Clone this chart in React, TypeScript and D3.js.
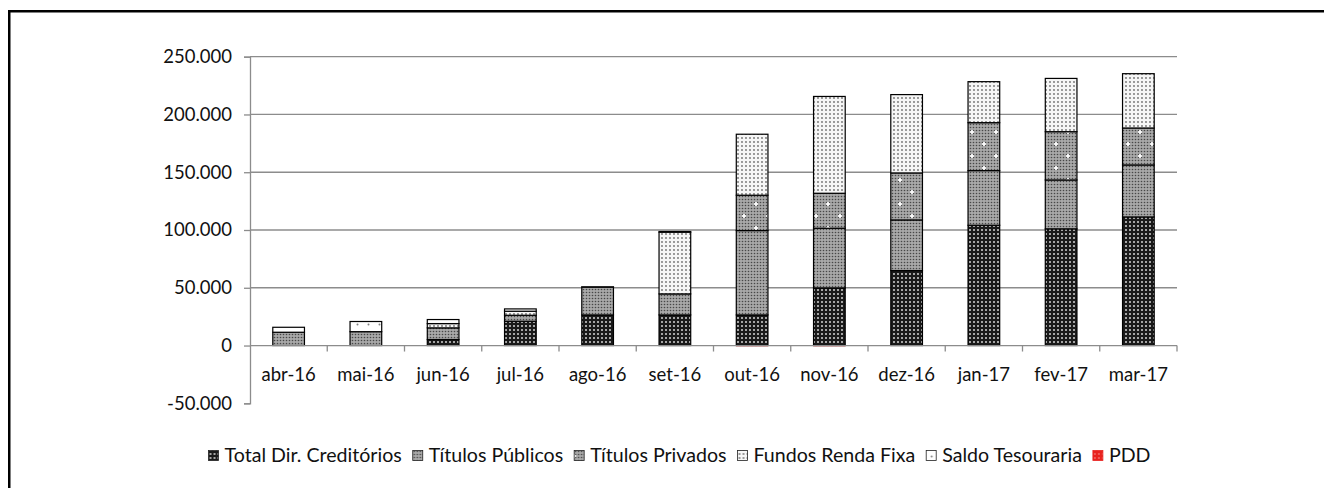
import { useEffect, useRef } from "react";
import * as d3 from "d3";

// months on the category axis
const months = ["abr-16", "mai-16", "jun-16", "jul-16", "ago-16", "set-16", "out-16", "nov-16", "dez-16", "jan-17", "fev-17", "mar-17"];

// values (R$ mil)
const totalDirCreditorios = [0, 0, 5200, 21000, 26500, 26500, 26500, 49900, 64900, 104100, 101000, 111300];
const titulosPublicos = [11500, 12000, 10100, 5200, 24000, 18200, 73000, 51600, 43800, 47300, 42300, 45000];
const titulosPrivados = [0, 0, 0, 0, 0, 0, 30600, 30300, 40700, 41500, 41800, 32000];
const fundosRendaFixa = [0, 0, 3700, 3500, 0, 53400, 52800, 83800, 67800, 35500, 46100, 47000];
const saldoTesouraria = [4300, 8800, 3500, 2000, 300, 600, 0, 0, 0, 0, 0, 0];
const pdd = [0, 0, 0, 0, 0, 0, -600, -600, 0, 0, 0, 0];

const seriesNames = ["Total Dir. Creditórios", "Títulos Públicos", "Títulos Privados", "Fundos Renda Fixa", "Saldo Tesouraria", "PDD"];
const yTicks = [-50000, 0, 50000, 100000, 150000, 200000, 250000];

const FONT = "Lato, 'Open Sans', sans-serif";

export default function App() {
  const ref = useRef<SVGSVGElement>(null);

  useEffect(() => {
    if (!ref.current) return;
    const svg = d3.select(ref.current);
    svg.selectAll("*").remove();

    const defs = svg.append("defs");
    const pattern = (id: string, size: number, bg: string) => {
      const p = defs
        .append("pattern")
        .attr("id", id)
        .attr("patternUnits", "userSpaceOnUse")
        .attr("width", size)
        .attr("height", size);
      p.append("rect").attr("width", size).attr("height", size).attr("fill", bg);
      return p;
    };

    // dark with light dots
    pattern("pTDC", 4, "#1a1a1a")
      .append("circle").attr("cx", 2).attr("cy", 2).attr("r", 1).attr("fill", "#d4d4d4");
    // medium grey, fine dots
    pattern("pPub", 3, "#a8a8a8")
      .append("circle").attr("cx", 1.5).attr("cy", 1.5).attr("r", 0.8).attr("fill", "#484848");
    // same grey with white crosses
    const priv = pattern("pPriv", 24, "#a8a8a8");
    for (let i = 0; i < 8; i++) {
      for (let j = 0; j < 8; j++) {
        priv.append("circle").attr("cx", 1.5 + i * 3).attr("cy", 1.5 + j * 3).attr("r", 0.8).attr("fill", "#484848");
      }
    }
    [[0, 0], [24, 0], [0, 24], [24, 24], [12, 12]].forEach(([cx, cy]) => {
      priv.append("path")
        .attr("d", `M${cx - 2},${cy}H${cx + 2}M${cx},${cy - 2}V${cy + 2}`)
        .attr("stroke", "#fff").attr("stroke-width", 1.6);
    });
    // light with grey dots
    pattern("pFundos", 4, "#f6f6f6")
      .append("circle").attr("cx", 2).attr("cy", 2).attr("r", 0.9).attr("fill", "#6e6e6e");
    // white, sparse dots
    pattern("pSaldo", 11, "#ffffff")
      .append("circle").attr("cx", 5.5).attr("cy", 5.5).attr("r", 1).attr("fill", "#808080");
    // red
    pattern("pPDD", 4, "#e8221e")
      .append("rect").attr("x", 1.5).attr("y", 1.5).attr("width", 1).attr("height", 1).attr("fill", "#fff");

    const fills = ["url(#pTDC)", "url(#pPub)", "url(#pPriv)", "url(#pFundos)", "url(#pSaldo)", "url(#pPDD)"];

    const g = svg.append("g").attr("transform", "translate(-8,-8)");

    // outer frame (only left/top fall inside the picture)
    g.append("path")
      .attr("d", "M9.25,700V11.25H1500")
      .attr("fill", "none")
      .attr("stroke", "#000")
      .attr("stroke-width", 2.5);

    const x = d3.scaleBand().domain(months).range([250, 1177]).padding(0);
    const y = d3.scaleLinear().domain([-50000, 250000]).range([403.3, 56.7]);
    const barW = x.bandwidth() * 0.41;

    const fmt = d3.formatLocale({ decimal: ",", thousands: ".", grouping: [3], currency: ["R$", ""], minus: "-" }).format(",.0f");

    // gridlines
    g.append("g")
      .selectAll("line")
      .data(yTicks.filter((t) => t > 0))
      .join("line")
      .attr("x1", 250)
      .attr("x2", 1177)
      .attr("y1", (d) => y(d))
      .attr("y2", (d) => y(d))
      .attr("stroke", "#8c8c8c")
      .attr("stroke-width", 1.3);

    // y axis
    const yAxis = g.append("g").attr("transform", "translate(250,0)")
      .call(d3.axisLeft(y).tickValues(yTicks).tickFormat((d) => fmt(d as number)).tickSize(6).tickPadding(12));
    yAxis.select(".domain").attr("stroke", "#8c8c8c").attr("stroke-width", 1.3);
    yAxis.selectAll(".tick line").attr("stroke", "#8c8c8c").attr("stroke-width", 1.3);
    yAxis.selectAll("text").attr("font-family", FONT).attr("font-size", 18.5).attr("fill", "#111");

    // stacked bars
    const rows = months.map((m, i) => ({
      month: m,
      "Total Dir. Creditórios": totalDirCreditorios[i],
      "Títulos Públicos": titulosPublicos[i],
      "Títulos Privados": titulosPrivados[i],
      "Fundos Renda Fixa": fundosRendaFixa[i],
      "Saldo Tesouraria": saldoTesouraria[i],
      PDD: pdd[i],
    }));
    const stacked = d3.stack<any>().keys(seriesNames).offset(d3.stackOffsetDiverging)(rows);

    stacked.forEach((layer, k) => {
      g.append("g")
        .selectAll("rect")
        .data(layer.filter((d) => d[1] !== d[0]))
        .join("rect")
        .attr("x", (d) => (x(d.data.month) as number) + (x.bandwidth() - barW) / 2)
        .attr("width", barW)
        .attr("y", (d) => y(Math.max(d[0], d[1])))
        .attr("height", (d) => Math.abs(y(d[0]) - y(d[1])))
        .attr("fill", fills[k])
        .attr("stroke", k === 5 ? "#d9a0a0" : "#000")
        .attr("stroke-width", k === 5 ? 0.6 : 1.2);
    });

    // x axis at zero
    const xAxis = g.append("g").attr("transform", `translate(0,${y(0)})`);
    xAxis.append("line").attr("x1", 250).attr("x2", 1177).attr("stroke", "#8c8c8c").attr("stroke-width", 1.3);
    xAxis.selectAll("line.tk")
      .data(months)
      .join("line")
      .attr("class", "tk")
      .attr("x1", (d) => (x(d) as number) + x.bandwidth())
      .attr("x2", (d) => (x(d) as number) + x.bandwidth())
      .attr("y1", 0)
      .attr("y2", 6)
      .attr("stroke", "#8c8c8c")
      .attr("stroke-width", 1.3);
    xAxis.selectAll("text")
      .data(months)
      .join("text")
      .attr("x", (d) => (x(d) as number) + x.bandwidth() / 2)
      .attr("y", 35)
      .attr("text-anchor", "middle")
      .attr("font-family", FONT)
      .attr("font-size", 18.5)
      .attr("fill", "#111")
      .text((d) => d);

    // legend, centred on the frame
    const legend = g.append("g");
    const items = legend.selectAll("g").data(seriesNames).join("g");
    items.append("rect")
      .attr("width", 10)
      .attr("height", 10)
      .attr("y", 450.5)
      .attr("fill", (_, i) => fills[i])
      .attr("stroke", (_, i) => (i === 5 ? "#e8221e" : "#222"))
      .attr("stroke-width", 0.8);
    const labels = items.append("text")
      .attr("x", 16)
      .attr("y", 462)
      .attr("font-family", FONT)
      .attr("font-size", 19.6)
      .attr("fill", "#111")
      .text((d) => d);
    const widths = labels.nodes().map((n) => (n as SVGTextElement).getComputedTextLength());
    const gap = 11;
    const total = d3.sum(widths, (w) => 16 + w) + gap * (widths.length - 1);
    let cx = 679.5 - total / 2;
    items.attr("transform", (_, i) => {
      const t = `translate(${cx},0)`;
      cx += 16 + widths[i] + gap;
      return t;
    });
  }, []);

  return <svg ref={ref} width={1316} height={480} style={{ display: "block" }} />;
}
